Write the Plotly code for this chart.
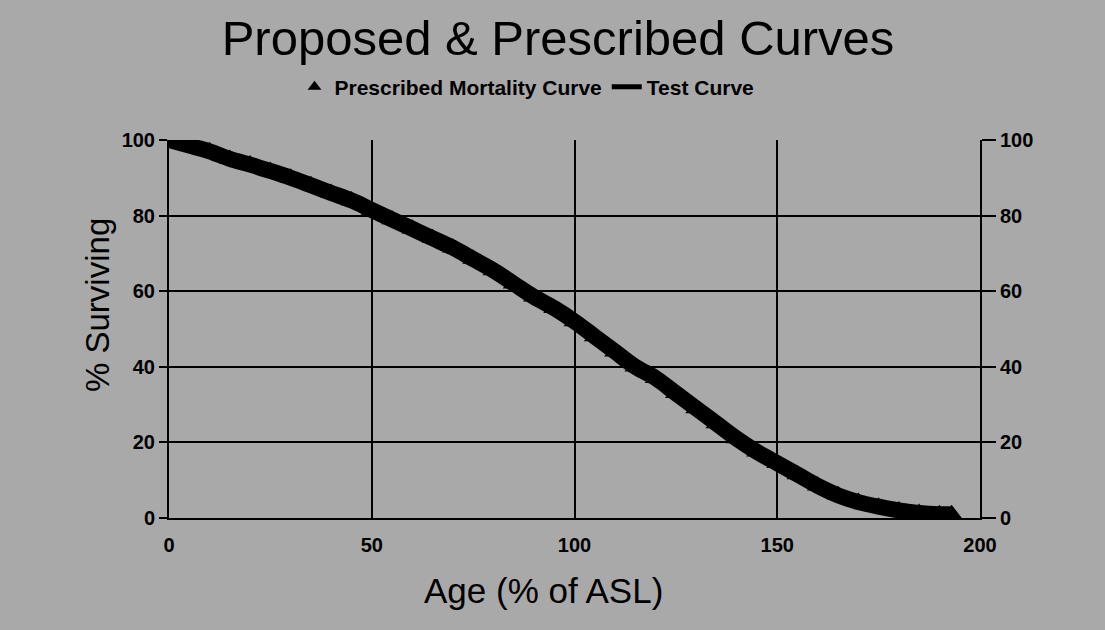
import plotly.graph_objects as go

# Data
age = [0, 5, 10, 15, 20, 25, 30, 35, 40, 45, 50, 55, 60, 65, 70, 75, 80, 85, 90, 95,
       100, 105, 110, 115, 120, 125, 130, 135, 140, 145, 150, 155, 160, 165, 170, 175,
       180, 185, 190, 193]
prescribed = [100, 98.5, 97, 95, 93.5, 91.8, 90, 88, 86, 84, 81.5, 79, 76.5, 74, 71.5,
              68.5, 65.5, 62, 58.5, 55.5, 52, 48, 44, 40, 37, 33, 29, 25, 21, 17.5, 14.5,
              11.5, 8.5, 6, 4.2, 3, 2, 1.3, 1, 1]
test_curve = [100, 98.5, 97, 95, 93.5, 91.8, 90, 88, 86, 84, 81.5, 79, 76.5, 74, 71.5,
              68.5, 65.5, 62, 58.5, 55.5, 52, 48, 44, 40, 37, 33, 29, 25, 21, 17.5, 14.5,
              11.5, 8.5, 6, 4.2, 3, 2, 1.3, 1, 1]
x_ticks = [0, 50, 100, 150, 200]
y_ticks = [0, 20, 40, 60, 80, 100]

FONT = "Liberation Sans, Arial, sans-serif"
BG = "#a9a9a9"
W, H = 1105, 630

fig = go.Figure()
fig.add_trace(go.Scatter(
    x=age, y=prescribed, mode="markers", name="Prescribed Mortality Curve",
    marker=dict(symbol="triangle-up", size=19, color="black"),
))
fig.add_trace(go.Scatter(
    x=age, y=test_curve, mode="lines", name="Test Curve",
    line=dict(color="black", width=16, shape="spline"),
))
# invisible trace to show mirrored right axis
fig.add_trace(go.Scatter(
    x=age, y=test_curve, mode="lines", yaxis="y2", showlegend=False,
    line=dict(color="rgba(0,0,0,0)", width=0), hoverinfo="skip",
))

fig.update_layout(
    width=W, height=H,
    paper_bgcolor=BG, plot_bgcolor=BG,
    margin=dict(l=169, r=125, t=140, b=112),
    font=dict(family=FONT, color="black", size=20),
    title=dict(text="Proposed &amp; Prescribed Curves", x=0.505, xanchor="center",
               y=1 - 38 / H, yanchor="middle", font=dict(size=49, family=FONT, color="black")),
    legend=dict(orientation="h", xref="paper", x=(527 - 169) / 811, xanchor="center",
                yref="container", y=1 - 87 / H, yanchor="middle",
                font=dict(size=21, family=FONT, weight="bold"), bgcolor="rgba(0,0,0,0)",
                itemsizing="constant", itemwidth=30, tracegroupgap=0),
    xaxis=dict(range=[0, 200], tickvals=x_ticks, showgrid=True, gridcolor="black",
               gridwidth=1.5, showline=True, linecolor="black", linewidth=2,
               ticks="", zeroline=False, ticklabelstandoff=8,
               tickfont=dict(size=20, weight="bold")),
    yaxis=dict(range=[0, 100], tickvals=y_ticks, showgrid=True, gridcolor="black",
               gridwidth=1.5, showline=True, linecolor="black", linewidth=2,
               ticks="outside", ticklen=8, tickcolor="black", tickwidth=1.5, zeroline=False,
               tickfont=dict(size=20, weight="bold")),
    yaxis2=dict(range=[0, 100], tickvals=y_ticks, overlaying="y", side="right",
                showgrid=False, showline=True, linecolor="black", linewidth=2,
                ticks="outside", ticklen=14, tickcolor="black", tickwidth=1.5,
                zeroline=False, tickfont=dict(size=20, weight="bold")),
    annotations=[
        dict(text="Age (% of ASL)", xref="paper", yref="paper",
             x=(543 - 169) / 811, y=-(590 - 518) / 378, xanchor="center", yanchor="middle",
             showarrow=False, font=dict(size=35, family=FONT, color="black")),
        dict(text="% Surviving", xref="paper", yref="paper", textangle=-90,
             x=-(169 - 97) / 811, y=(518 - 305) / 378, xanchor="center", yanchor="middle",
             showarrow=False, font=dict(size=33, family=FONT, color="black")),
    ],
    showlegend=True,
)

fig.write_html("out.html", config={"displayModeBar": False},
               post_script="document.body.style.margin='0';")
